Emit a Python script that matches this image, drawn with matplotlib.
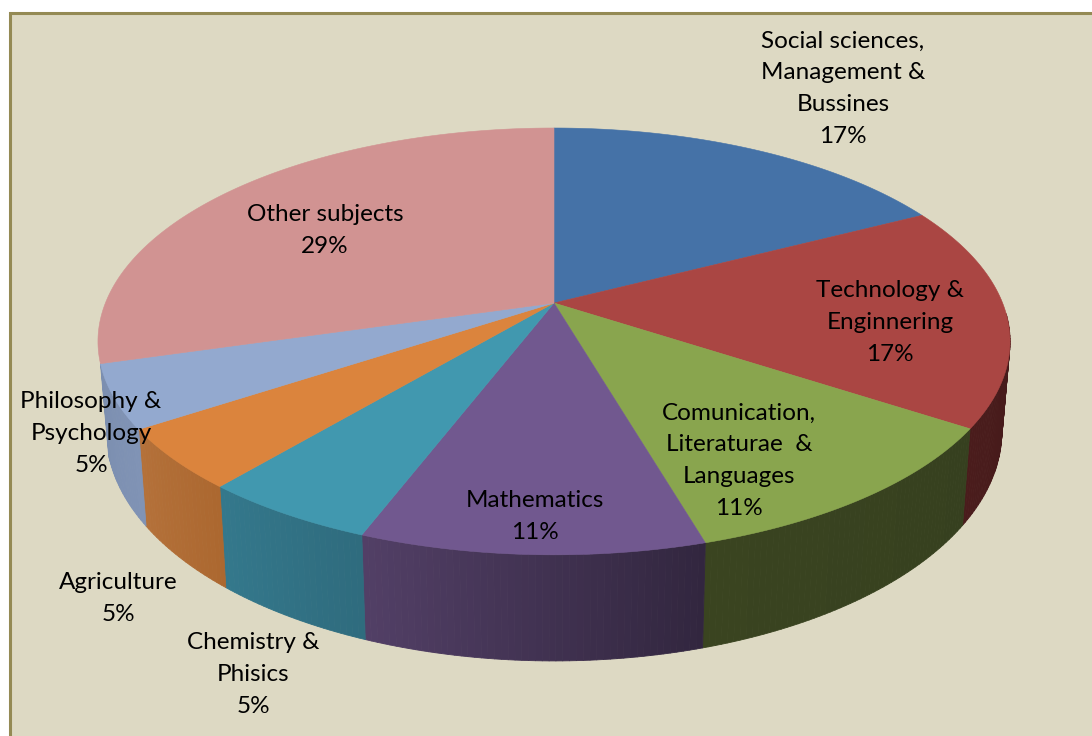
import numpy as np
import matplotlib
matplotlib.use("Agg")
import matplotlib.pyplot as plt
from matplotlib.colors import to_rgb
from matplotlib.collections import PolyCollection
from matplotlib.patches import Rectangle

labels = ["Social sciences,\nManagement &\nBussines", "Technology &\nEnginnering",
          "Comunication,\nLiteraturae  &\nLanguages", "Mathematics",
          "Chemistry &\nPhisics", "Agriculture", "Philosophy &\nPsychology", "Other subjects"]
percents = [17, 17, 11, 11, 5, 5, 5, 29]
# slice sizes as measured on the picture, the printed percents are rounded
shares = [17.4, 16.85, 11.25, 10.3, 5.3, 4.6, 4.8, 29.5]

top_colors = ["#4572A7", "#AA4643", "#89A54E", "#71588F", "#4198AF", "#DB843D", "#93A9CF", "#D19392"]
side_left = ["#2E4C70", "#4A1C1C", "#3A4420", "#523F66", "#34788C", "#B4713A", "#7C8FB0", "#8C6362"]
side_right = ["#2E4C70", "#3E1818", "#36401F", "#32263F", "#2F6C7E", "#AC6830", "#8093B5", "#8C6362"]
label_xy = [(843, 88), (890, 322), (739, 460), (535, 516), (253, 674), (118, 598), (91, 433), (325, 230)]

# perspective disc, pixel coordinates
CX, CY = 554, 303
A, B, K = 448.6, 206.5, 0.18
WALL, SHRINK = 87, 0.982


def top_xy(ang):
    u, v = np.sin(ang), np.cos(ang)
    w = 1 + K * v
    return CX + A * u / w, CY - B * v / w


def bottom_xy(ang):
    x, y = top_xy(ang)
    return CX + SHRINK * (x - CX), y + WALL / (1 + K * np.cos(ang))


fig = plt.figure(figsize=(10.92, 7.36), dpi=100, facecolor="white")
ax = fig.add_axes([0, 0, 1, 1])
ax.set_xlim(0, 1092)
ax.set_ylim(736, 0)
ax.axis("off")

ax.add_patch(Rectangle((10, 13), 1200, 900, fc="#DDD9C3", ec="#948A54", lw=2.2, zorder=0))

edges = np.cumsum([0] + shares) / sum(shares) * 2 * np.pi

# only the front of the rim shows, the last slice has no visible wall
for i in range(len(shares) - 1):
    n = max(2, int(shares[i] * 5))
    t = np.linspace(edges[i], edges[i + 1], n + 1)
    x0, y0 = top_xy(t)
    x1, y1 = bottom_xy(t)
    quads, cols = [], []
    # walking clockwise the front wall runs right to left
    c_r, c_l = np.array(to_rgb(side_right[i])), np.array(to_rgb(side_left[i]))
    for j in range(n):
        if np.cos(t[j]) > -0.05:
            continue
        f = j / max(n - 1, 1)
        quads.append([(x0[j], y0[j]), (x0[j + 1], y0[j + 1]), (x1[j + 1], y1[j + 1]), (x1[j], y1[j])])
        cols.append(c_r + (c_l - c_r) * f)
    if quads:
        ax.add_collection(PolyCollection(quads, facecolors=cols, edgecolors=cols, linewidths=0.6, zorder=2))

for i in range(len(shares)):
    t = np.linspace(edges[i], edges[i + 1], 120)
    x, y = top_xy(t)
    ax.fill(np.r_[CX, x], np.r_[CY, y], color=top_colors[i], lw=0.4, zorder=3)

for i, name in enumerate(labels):
    x, y = label_xy[i]
    ax.text(x, y + 0.5, name + "\n" + str(percents[i]) + "%", ha="center", va="center", ma="center",
            family="Lato", fontsize=17.5, color="black", linespacing=1.63, zorder=5)

fig.savefig("out.png", dpi=100)
